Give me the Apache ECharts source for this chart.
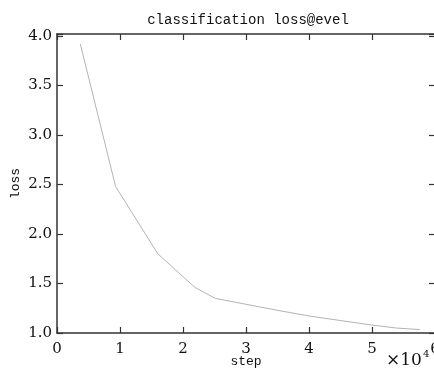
<!DOCTYPE html>
<html>
<head>
<meta charset="utf-8">
<script src="https://cdn.jsdelivr.net/npm/echarts@6/dist/echarts.min.js"></script>
<style>
  html, body { margin: 0; padding: 0; background: #fff; }
  #box { width: 434px; height: 369px; }
</style>
</head>
<body>
<div id="box"></div>
<script>
// steps and loss values
const steps = [3700, 9300, 16000, 21900, 25100, 34900, 40200, 50000, 53900, 57600];
const losses = [3.92, 2.48, 1.80, 1.46, 1.35, 1.23, 1.17, 1.08, 1.05, 1.035];
const xTicks = [0, 1, 2, 3, 4, 5, 6];
const yTicks = [1.0, 1.5, 2.0, 2.5, 3.0, 3.5, 4.0];

const monoFont = 'Liberation Mono';
const numFont = 'DejaVu Serif';
const axisColor = '#333';

const myChart = echarts.init(document.getElementById('box'));

const lineData = steps.map((s, i) => [s, losses[i]]);

// common axis look: inward ticks, dark line
const baseAxis = {
  axisLine: { show: true, onZero: false, lineStyle: { color: axisColor, width: 1.5 } },
  axisTick: { show: true, inside: true, length: 6, lineStyle: { color: axisColor, width: 1.2 } },
  splitLine: { show: false },
};

const option = {
  animation: false,
  backgroundColor: '#fff',
  title: {
    text: 'classification loss@evel',
    left: 243,
    top: 8,
    textAlign: 'center',
    textStyle: { fontFamily: monoFont, fontSize: 14, fontWeight: 'normal', color: '#111' }
  },
  grid: { left: 57, top: 34, right: -1, bottom: 36, containLabel: false, outerBoundsMode: 'none' },
  xAxis: [
    Object.assign({}, baseAxis, {
      type: 'value',
      min: 0, max: 60000, interval: 10000,
      position: 'bottom',
      name: 'step',
      nameLocation: 'middle',
      nameGap: 22,
      nameMoveOverlap: false,
      nameTextStyle: { fontFamily: monoFont, fontSize: 13, color: '#111' },
      axisLabel: {
        margin: 9,
        fontFamily: numFont, fontSize: 15, color: '#111',
        formatter: v => (xTicks.indexOf(v / 10000) >= 0 ? String(v / 10000) : '')
      }
    }),
    Object.assign({}, baseAxis, {
      type: 'value',
      min: 0, max: 60000, interval: 10000,
      position: 'top',
      axisLabel: { show: false }
    })
  ],
  yAxis: [
    Object.assign({}, baseAxis, {
      type: 'value',
      min: 1, max: 4.02, interval: 0.5,
      position: 'left',
      name: 'loss',
      nameLocation: 'middle',
      nameGap: 35,
      nameMoveOverlap: false,
      nameRotate: 90,
      nameTextStyle: { fontFamily: monoFont, fontSize: 13, color: '#111' },
      axisLabel: {
        margin: 5,
        fontFamily: numFont, fontSize: 15, color: '#111',
        formatter: v => (yTicks.indexOf(v) >= 0 ? v.toFixed(1) : '')
      }
    }),
    Object.assign({}, baseAxis, {
      type: 'value',
      min: 1, max: 4.02, interval: 0.5,
      position: 'right',
      axisLabel: { show: false }
    })
  ],
  graphic: [
    {
      type: 'text',
      left: 386,
      top: 352,
      style: { text: '×10', fontFamily: numFont, fontSize: 17, fill: '#111' }
    },
    {
      type: 'text',
      left: 423,
      top: 349,
      style: { text: '4', fontFamily: numFont, fontSize: 10, fill: '#111' }
    }
  ],
  series: [
    {
      type: 'line',
      data: lineData,
      showSymbol: false,
      symbol: 'none',
      lineStyle: { color: '#b4b4b4', width: 1 }
    }
  ]
};

myChart.setOption(option);
</script>
</body>
</html>
